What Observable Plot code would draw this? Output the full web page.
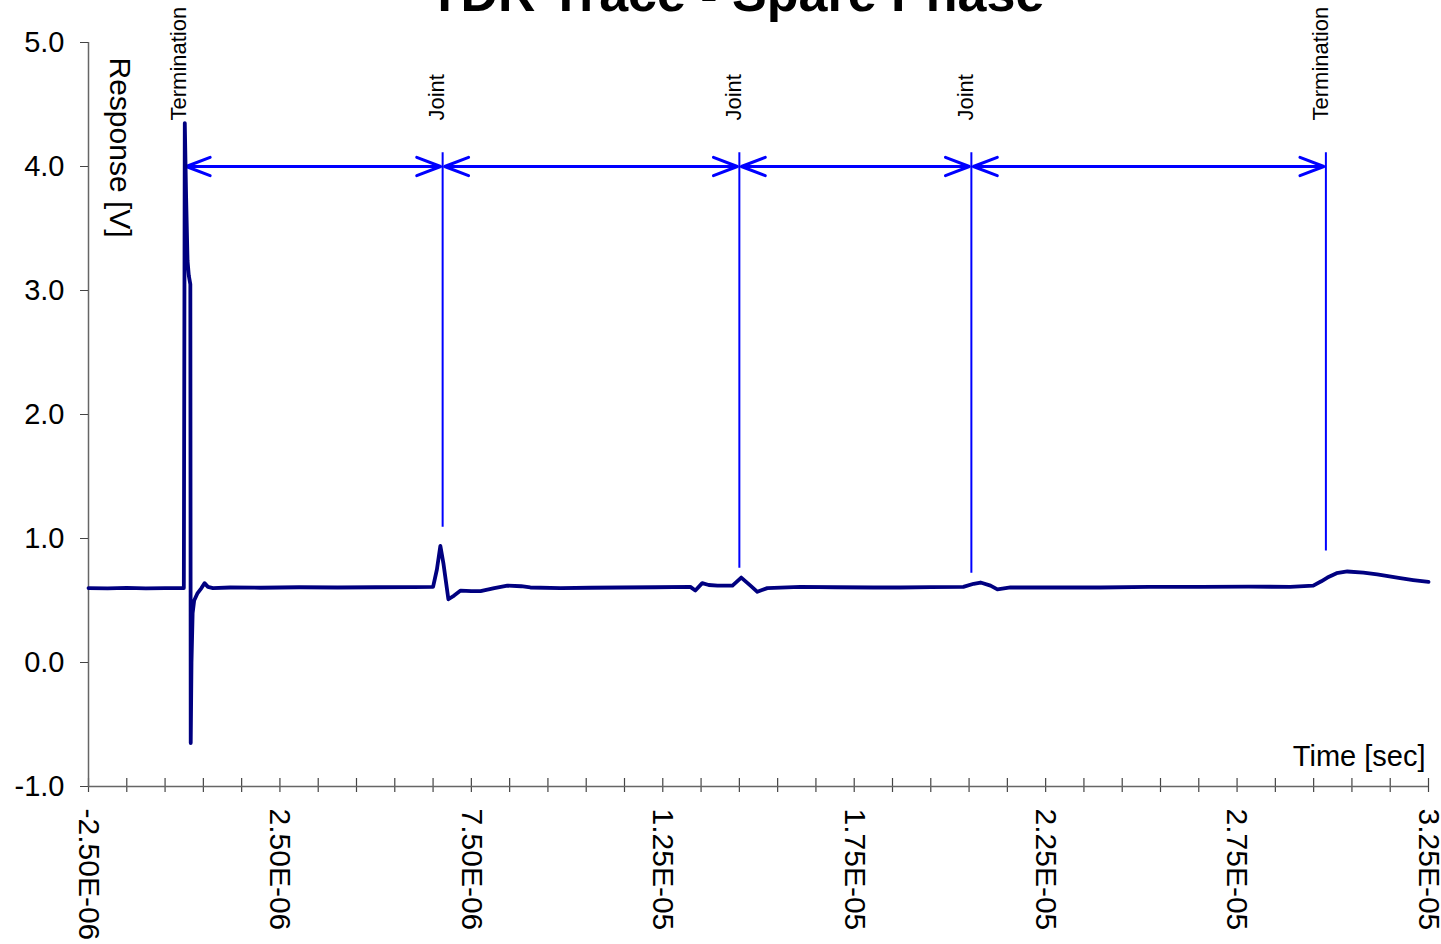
<!DOCTYPE html>
<html><head><meta charset="utf-8">
<script src="https://cdn.jsdelivr.net/npm/d3@7"></script>
<script src="https://cdn.jsdelivr.net/npm/@observablehq/plot@0.6"></script>
<style>html,body{margin:0;padding:0;background:#fff;overflow:hidden}</style>
</head><body><div id="chart"></div>
<script>
const title = "TDR Trace - Spare Phase";
const yAxisTitle = "Response [V]";
const xAxisTitle = "Time [sec]";

// trace (time in microseconds, response in volts)
const traceTimeUs = [-2.5,-2.0,-1.5,-1.0,-0.5,-0.01,0.015,0.05,0.087,0.12,0.16,0.17,0.19,0.22,0.26,0.35,0.45,0.53,0.62,0.75,
  1.2,2.0,3.0,4.0,5.0,6.0,6.5,6.6,6.69,6.77,6.9,7.05,7.22,7.5,7.74,8.1,8.44,8.8,9.04,9.83,
  10.6,11.4,12.3,13.22,13.35,13.53,13.7,13.93,14.32,14.55,14.79,14.97,15.23,16.09,17.0,18.0,18.71,19.5,20.35,20.62,
  20.8,21.06,21.24,21.58,22.5,23.93,25.2,26.54,27.8,28.89,29.49,29.7,29.86,30.1,30.38,30.8,31.16,31.76,32.1,32.5];
const traceVolts = [0.600,0.598,0.602,0.598,0.600,0.600,4.35,3.75,3.24,3.12,3.05,-0.65,0.00,0.40,0.50,0.56,0.60,0.64,0.61,0.600,
  0.605,0.603,0.607,0.605,0.607,0.608,0.61,0.75,0.94,0.80,0.51,0.54,0.58,0.575,0.575,0.60,0.62,0.615,0.605,0.600,
  0.603,0.605,0.607,0.61,0.58,0.64,0.625,0.62,0.62,0.685,0.62,0.57,0.60,0.61,0.607,0.605,0.605,0.608,0.61,0.635,
  0.645,0.62,0.59,0.605,0.605,0.605,0.61,0.61,0.612,0.61,0.62,0.655,0.685,0.72,0.734,0.725,0.71,0.68,0.665,0.65];

// cursors
const cursorNames = ["Termination","Joint","Joint","Joint","Termination"];
const cursorTimeUs = [0, 6.75, 14.5, 20.56, 29.82];
const cursorTopV = 4.11;
const cursorBottomV = [3.8, 1.09, 0.76, 0.72, 0.90];
const arrowLevelV = 4.0;

// ticks
const yTicks = [-1, 0, 1, 2, 3, 4, 5];
const xLabelTicks = [-2.5e-6, 2.5e-6, 7.5e-6, 1.25e-5, 1.75e-5, 2.25e-5, 2.75e-5, 3.25e-5];
const xMinorStep = 1e-6;
const xDomain = [-2.5e-6, 3.25e-5];
const yDomain = [-1, 5];

const xMinorTicks = d3.range(0, 36).map(i => xDomain[0] + i * xMinorStep);
const trace = traceTimeUs.map((t, i) => ({t: t * 1e-6, v: traceVolts[i]}));
const cursors = cursorTimeUs.map((t, i) => ({t: t * 1e-6, name: cursorNames[i], bottom: cursorBottomV[i]}));
const arrows = [];
for (let i = 0; i < cursors.length - 1; i++) {
  const a = cursors[i].t, b = cursors[i + 1].t, m = (a + b) / 2;
  arrows.push({x1: m, x2: a}, {x1: m, x2: b});
}
function sci(v) {
  const [m, e] = v.toExponential(2).split("e");
  const n = +e;
  return m + "E" + (n < 0 ? "-" : "+") + String(Math.abs(n)).padStart(2, "0");
}

const W = 1441, H = 944, mT = 42, mB = 158, mL = 88, mR = 13;
const frameH = H - mT - mB;

const chart = Plot.plot({
  width: W, height: H,
  marginTop: mT, marginBottom: mB, marginLeft: mL, marginRight: mR,
  style: {fontFamily: "'Liberation Sans', Arial, sans-serif", fontSize: "29px", background: "#fff", color: "#000", overflow: "visible"},
  x: {domain: xDomain, label: null},
  y: {domain: yDomain, label: null},
  marks: [
    Plot.ruleX(xMinorTicks, {stroke: "#444", strokeWidth: 1.2, insetTop: frameH - 8, insetBottom: -6}),
    Plot.ruleY([yDomain[0]], {stroke: "#666", strokeWidth: 1.5}),
    Plot.ruleX([xDomain[0]], {stroke: "#666", strokeWidth: 1.5}),
    Plot.axisY({ticks: yTicks, tickFormat: d => d.toFixed(1), tickSize: 8, tickPadding: 16, fontSize: 29, stroke: "#444", label: null}),
    Plot.axisX({ticks: xLabelTicks, tickFormat: sci, tickSize: 0, tickPadding: 22, tickRotate: 90, fontSize: 30, label: null}),
    Plot.ruleX(cursors, {x: "t", y1: cursorTopV, y2: "bottom", stroke: "#0000ff", strokeWidth: 2}),
    Plot.arrow(arrows, {x1: "x1", x2: "x2", y1: arrowLevelV, y2: arrowLevelV, stroke: "#0000ff", strokeWidth: 3, headLength: 12.8, headAngle: 42, insetEnd: 2}),
    Plot.line(trace, {x: "t", y: "v", stroke: "#000080", strokeWidth: 3.8}),
    Plot.text(cursors, {x: "t", text: "name", frameAnchor: "top", dy: 78, dx: -14, rotate: -90, textAnchor: "start", fontSize: 22}),
    Plot.text([title], {frameAnchor: "top", dx: -22, dy: -32, lineAnchor: "bottom", fontSize: 52, fontWeight: "bold"}),
    Plot.text([yAxisTitle], {frameAnchor: "top-left", dx: 43, dy: 15, rotate: 90, textAnchor: "start", fontSize: 30}),
    Plot.text([xAxisTitle], {frameAnchor: "bottom-right", dx: -3, dy: -21, textAnchor: "end", lineAnchor: "bottom", fontSize: 29})
  ]
});
document.getElementById("chart").appendChild(chart);
</script>
</body></html>
